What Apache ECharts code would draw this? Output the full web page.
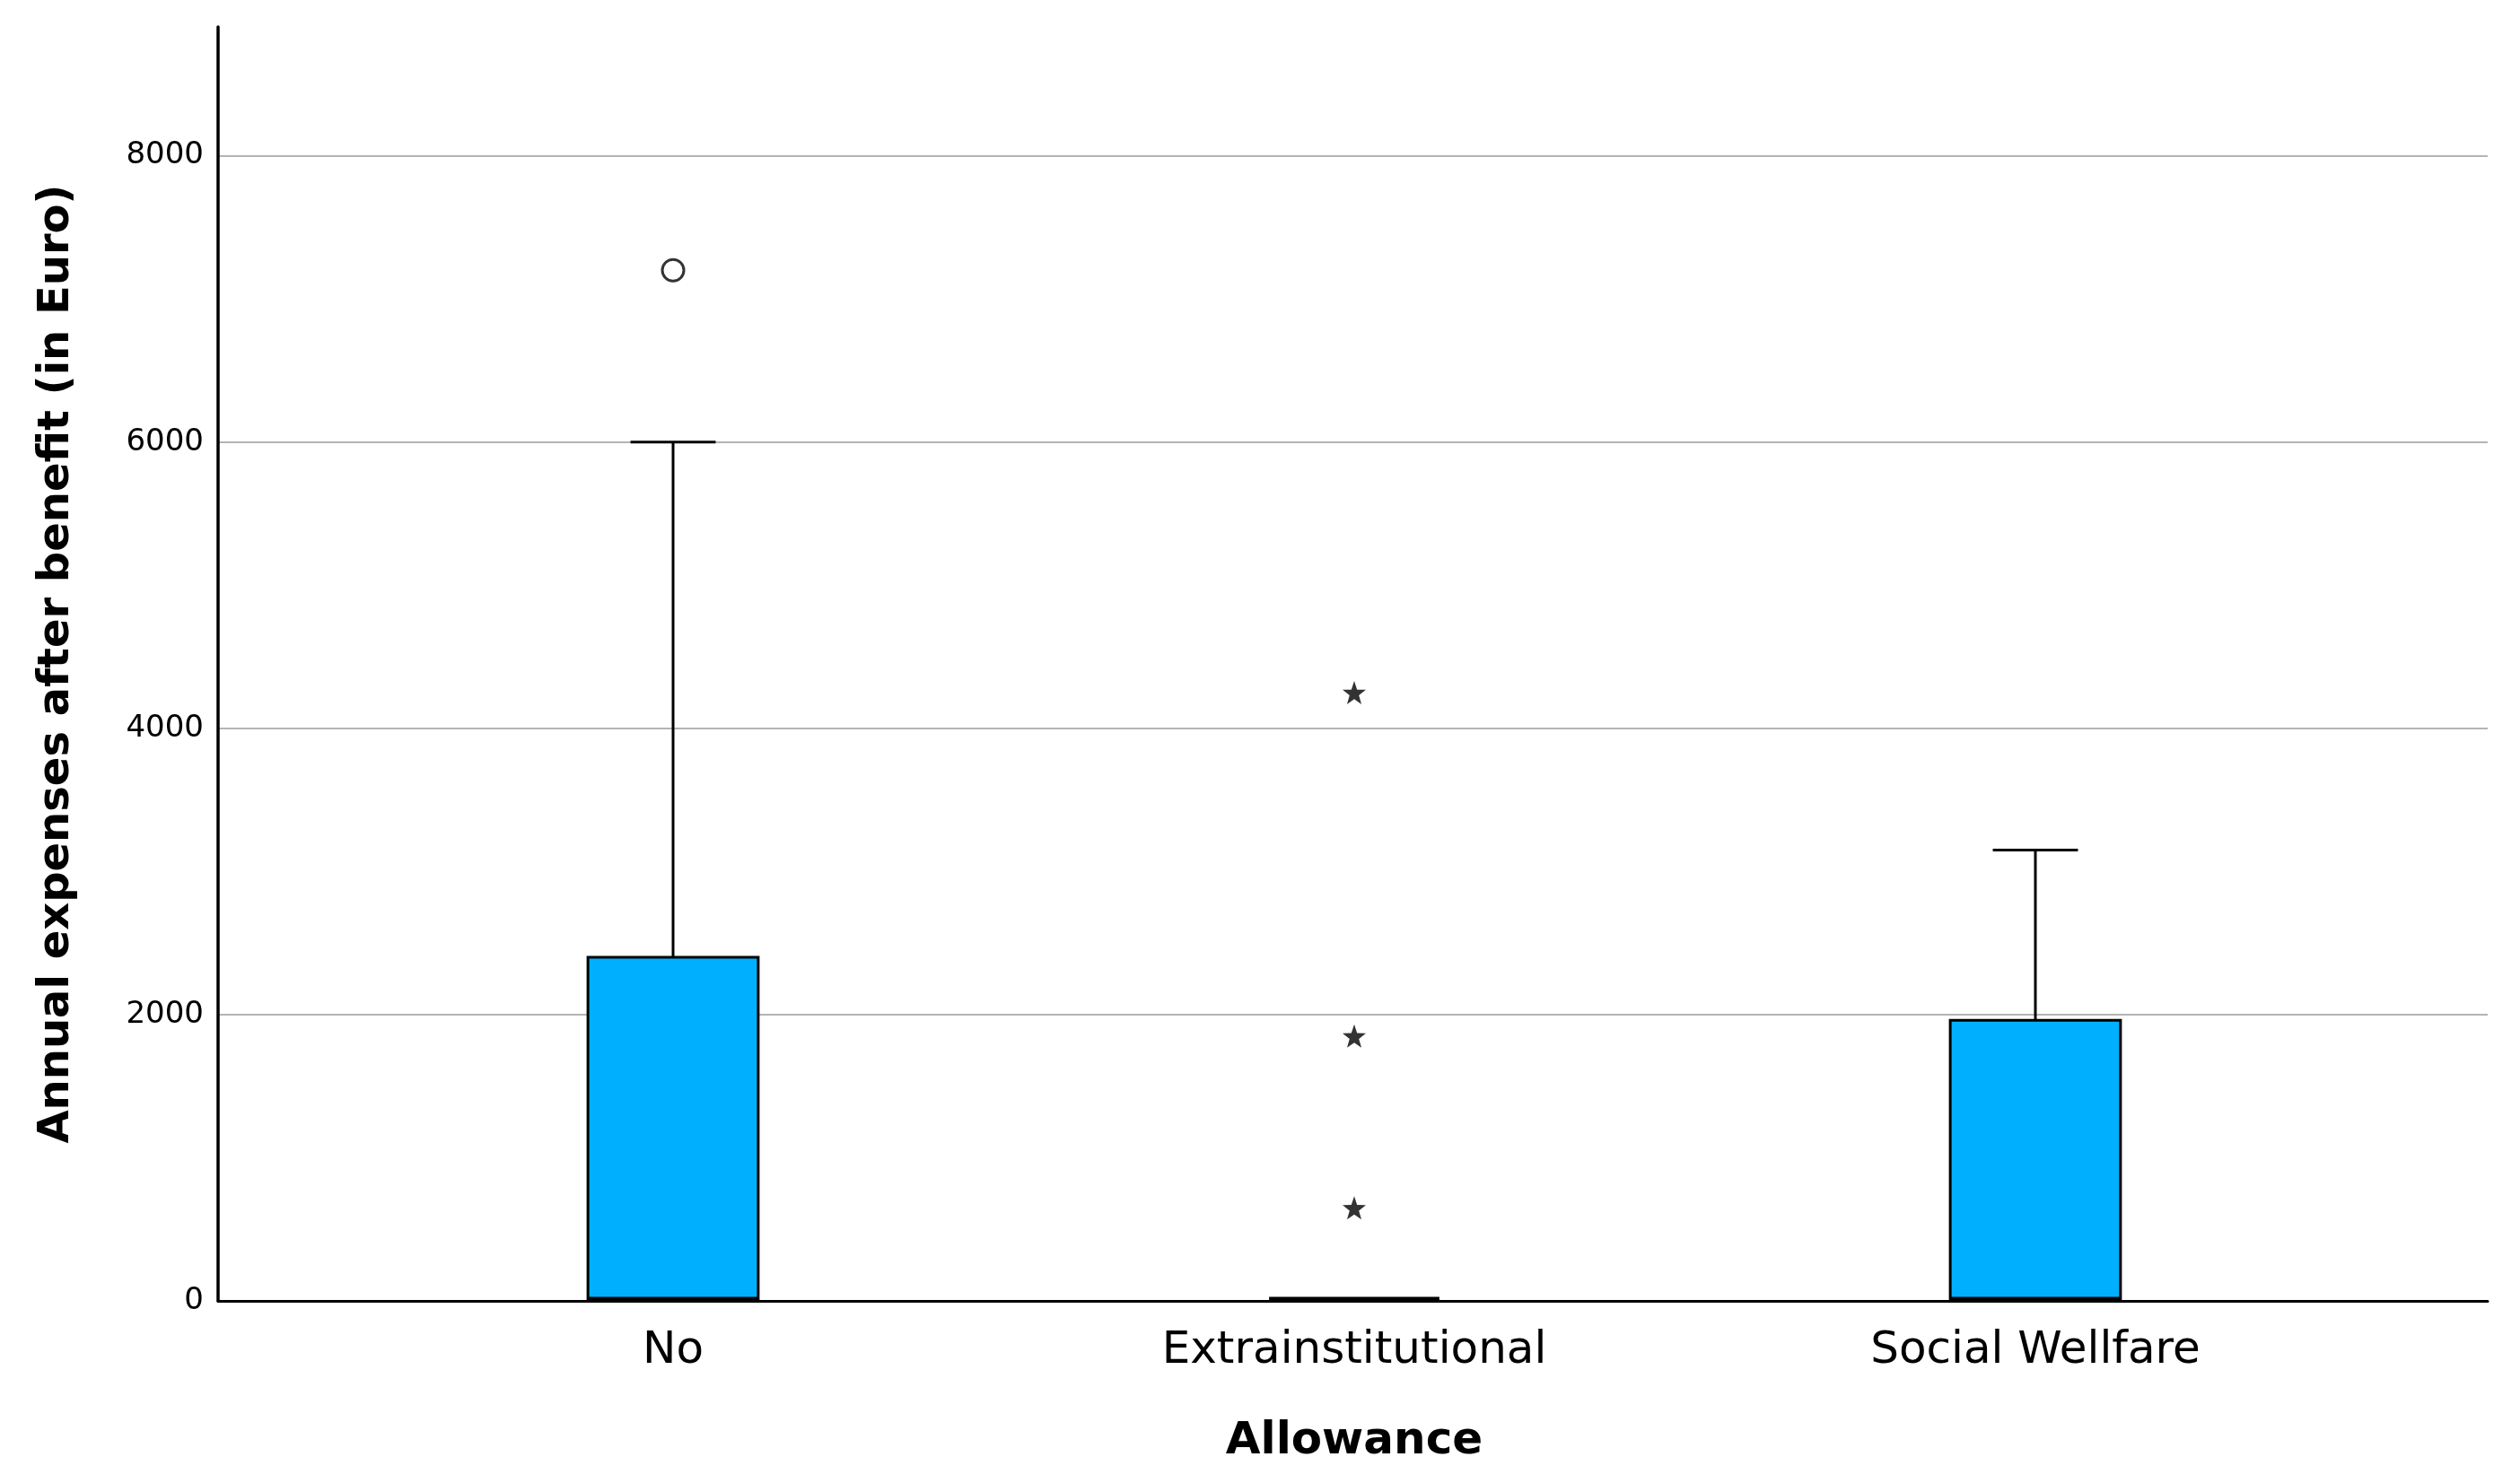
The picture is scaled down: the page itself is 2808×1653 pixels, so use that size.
<!DOCTYPE html>
<html>
<head>
<meta charset="utf-8">
<script src="https://cdn.jsdelivr.net/npm/echarts@6/dist/echarts.min.js"></script>
<style>html,body{margin:0;padding:0;background:#fff;}#c{width:2808px;height:1653px;}</style>
</head>
<body>
<div id="c"></div>
<script>
const categories = ['No', 'Extrainstitutional', 'Social Wellfare'];
const whiskerLow = [0, 0, 0];
const q1Values = [0, 0, 0];
const medianValues = [0, 0, 0];
const q3Values = [2400, 0, 1960];
const whiskerHigh = [6000, 0, 3150];
const outliersCircle = [[0, 7200]];
const outliersStar = [[1, 4250], [1, 1850], [1, 650]];
const yTicks = [0, 2000, 4000, 6000, 8000];
const yMax = 8900;

const boxData = categories.map((c, i) => [i, whiskerLow[i], q1Values[i], medianValues[i], q3Values[i], whiskerHigh[i]]);

const chart = echarts.init(document.getElementById('c'), null, {renderer: 'canvas'});

function renderBox(params, api) {
  const x = api.value(0);
  const band = api.size([1, 0])[0];
  const w = band * 0.25;
  const pMin = api.coord([x, api.value(1)]);
  const pQ1 = api.coord([x, api.value(2)]);
  const pMed = api.coord([x, api.value(3)]);
  const pQ3 = api.coord([x, api.value(4)]);
  const pMax = api.coord([x, api.value(5)]);
  const cx = pQ1[0];
  const lineStyle = {stroke: '#000', lineWidth: 3};
  const children = [];
  if (pMax[1] < pQ3[1]) {
    children.push({type: 'line', shape: {x1: cx, y1: pQ3[1], x2: cx, y2: pMax[1]}, style: lineStyle});
    children.push({type: 'line', shape: {x1: cx - w / 4, y1: pMax[1], x2: cx + w / 4, y2: pMax[1]}, style: lineStyle});
  }
  if (pMin[1] > pQ1[1]) {
    children.push({type: 'line', shape: {x1: cx, y1: pQ1[1], x2: cx, y2: pMin[1]}, style: lineStyle});
    children.push({type: 'line', shape: {x1: cx - w / 4, y1: pMin[1], x2: cx + w / 4, y2: pMin[1]}, style: lineStyle});
  }
  children.push({type: 'rect', shape: {x: cx - w / 2, y: pQ3[1], width: w, height: pQ1[1] - pQ3[1]},
    style: {fill: '#00B0FF', stroke: '#000', lineWidth: 3}});
  children.push({type: 'line', shape: {x1: cx - w / 2, y1: pMed[1] - 2, x2: cx + w / 2, y2: pMed[1] - 2},
    style: {stroke: '#000', lineWidth: 5}});
  return {type: 'group', children: children};
}

const starPath = 'path://M0,-10L2.35,-3.24L9.51,-3.09L3.8,1.24L5.88,8.09L0,4.2L-5.88,8.09L-3.8,1.24L-9.51,-3.09L-2.35,-3.24Z';

const option = {
  backgroundColor: '#fff',
  animation: false,
  grid: [
    {left: 243, right: 36, top: 30, bottom: 203},
    {left: 370.5, right: 160.5, top: 30, bottom: 203}
  ],
  xAxis: [
    {type: 'value', gridIndex: 0, min: 0, max: 1, axisLine: {show: true, lineStyle: {color: '#000', width: 3}},
      axisTick: {show: false}, axisLabel: {show: false}, splitLine: {show: false}},
    {type: 'category', gridIndex: 1, data: categories, boundaryGap: true,
      axisLine: {show: false}, axisTick: {show: false},
      axisLabel: {fontFamily: 'DejaVu Sans', fontSize: 50, color: '#000', margin: 31},
      name: 'Allowance', nameLocation: 'middle', nameGap: 132,
      nameTextStyle: {fontFamily: 'DejaVu Sans', fontWeight: 'bold', fontSize: 50, color: '#000'}}
  ],
  yAxis: [
    {type: 'value', gridIndex: 0, min: 0, max: yMax, interval: 2000,
      axisLine: {show: true, lineStyle: {color: '#000', width: 3.5}}, axisTick: {show: false},
      axisLabel: {fontFamily: 'DejaVu Sans', fontSize: 34, color: '#000', margin: 16, showMaxLabel: false,
        formatter: v => yTicks.indexOf(v) >= 0 ? String(v) : ''},
      splitLine: {show: true, showMinLine: false, showMaxLine: false, lineStyle: {color: '#b4b4b4', width: 2}},
      name: 'Annual expenses after benefit (in Euro)', nameLocation: 'middle', nameGap: 155,
      nameTextStyle: {fontFamily: 'DejaVu Sans', fontWeight: 'bold', fontSize: 48, color: '#000'}},
    {type: 'value', gridIndex: 1, min: 0, max: yMax, show: false}
  ],
  series: [
    {type: 'custom', xAxisIndex: 1, yAxisIndex: 1, renderItem: renderBox, data: boxData, z: 3},
    {type: 'scatter', xAxisIndex: 1, yAxisIndex: 1, data: outliersCircle, symbol: 'circle', symbolSize: 24,
      itemStyle: {color: '#fff', borderColor: '#000', borderWidth: 3}, z: 4},
    {type: 'scatter', xAxisIndex: 1, yAxisIndex: 1, data: outliersStar, symbol: starPath, symbolSize: 26,
      itemStyle: {color: '#000'}, z: 4}
  ]
};
chart.setOption(option);
</script>
</body>
</html>
